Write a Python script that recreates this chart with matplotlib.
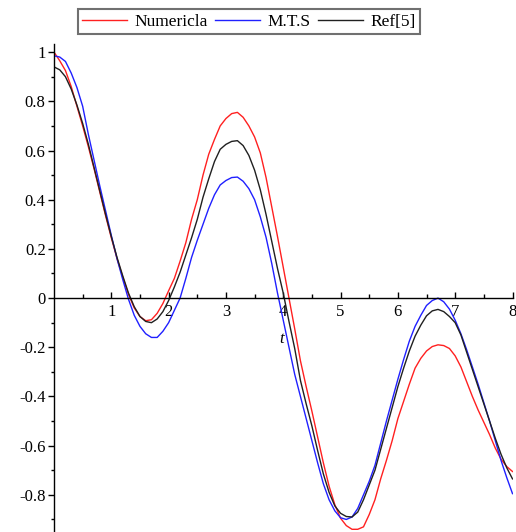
import numpy as np
import matplotlib
matplotlib.use('Agg')
import matplotlib.pyplot as plt
from matplotlib.ticker import FixedLocator, MultipleLocator

plt.rcParams['font.family'] = ['Liberation Serif', 'DejaVu Serif']
plt.rcParams['axes.unicode_minus'] = False

# time grid (step 0.1) and values
t = np.round(np.arange(0, 8.01, 0.1), 1)

numericla = [
    1.00, 0.965, 0.925, 0.86, 0.78, 0.70, 0.615, 0.525, 0.43, 0.335,
    0.245, 0.16, 0.085, 0.015, -0.04, -0.075, -0.092, -0.088, -0.062, -0.022,
    0.03, 0.08, 0.15, 0.225, 0.32, 0.40, 0.50, 0.585, 0.645, 0.70,
    0.73, 0.75, 0.755, 0.735, 0.70, 0.655, 0.59, 0.49, 0.37, 0.25,
    0.125, 0.0, -0.125, -0.255, -0.36, -0.46, -0.565, -0.67, -0.765, -0.84,
    -0.895, -0.925, -0.94, -0.94, -0.93, -0.88, -0.82, -0.735, -0.66, -0.58,
    -0.49, -0.42, -0.35, -0.285, -0.245, -0.215, -0.197, -0.19, -0.193, -0.205,
    -0.235, -0.28, -0.34, -0.40, -0.455, -0.505, -0.555, -0.61, -0.655, -0.685,
    -0.705,
]

mts = [
    0.985, 0.98, 0.962, 0.915, 0.856, 0.78, 0.665, 0.56, 0.455, 0.355,
    0.255, 0.16, 0.075, -0.005, -0.07, -0.115, -0.145, -0.16, -0.16, -0.135,
    -0.10, -0.05, 0.0, 0.08, 0.165, 0.235, 0.30, 0.365, 0.42, 0.46,
    0.478, 0.49, 0.492, 0.475, 0.445, 0.40, 0.33, 0.247, 0.14, 0.02,
    -0.09, -0.20, -0.31, -0.40, -0.49, -0.58, -0.67, -0.755, -0.82, -0.865,
    -0.893, -0.90, -0.89, -0.855, -0.80, -0.745, -0.68, -0.59, -0.50, -0.415,
    -0.33, -0.25, -0.175, -0.115, -0.07, -0.03, -0.01, 0.0, -0.015, -0.045,
    -0.09, -0.145, -0.21, -0.28, -0.35, -0.425, -0.50, -0.58, -0.66, -0.73,
    -0.795,
]

ref5 = [
    0.94, 0.928, 0.90, 0.85, 0.785, 0.71, 0.625, 0.53, 0.435, 0.34,
    0.25, 0.165, 0.09, 0.02, -0.035, -0.075, -0.095, -0.10, -0.085, -0.055,
    -0.01, 0.045, 0.105, 0.175, 0.245, 0.32, 0.41, 0.485, 0.555, 0.605,
    0.625, 0.637, 0.64, 0.62, 0.58, 0.52, 0.44, 0.34, 0.23, 0.12,
    0.02, -0.095, -0.205, -0.335, -0.43, -0.52, -0.62, -0.715, -0.79, -0.845,
    -0.875, -0.888, -0.89, -0.87, -0.82, -0.76, -0.70, -0.615, -0.53, -0.445,
    -0.36, -0.285, -0.215, -0.155, -0.11, -0.072, -0.052, -0.046, -0.055, -0.075,
    -0.10, -0.15, -0.22, -0.29, -0.36, -0.43, -0.50, -0.57, -0.635, -0.69,
    -0.735,
]

x_ticks = [1, 2, 3, 4, 5, 6, 7, 8]
y_ticks = [-0.8, -0.6, -0.4, -0.2, 0, 0.2, 0.4, 0.6, 0.8, 1]
y_labels = ['-0.8', '-0.6', '-0.4', '-0.2', '0', '0.2', '0.4', '0.6', '0.8', '1']

fig = plt.figure(figsize=(5.16, 5.32), dpi=100)
ax = fig.add_axes([54 / 516, 0, (512.5 - 54) / 516, (532 - 44) / 532])

l1, = ax.plot(t, numericla, color='#ff2020', lw=1.0, label='Numericla')
l2, = ax.plot(t, mts, color='#2020ff', lw=1.0, label='M.T.S')
l3, = ax.plot(t, ref5, color='#202020', lw=1.0, label='Ref[5]')

ax.set_xlim(0, 8)
ax.set_ylim(-0.951, 1.033)

ax.spines['top'].set_visible(False)
ax.spines['right'].set_visible(False)
ax.spines['bottom'].set_position(('data', 0))
for s in ('left', 'bottom'):
    ax.spines[s].set_linewidth(1.0)

ax.xaxis.set_major_locator(FixedLocator(x_ticks))
ax.xaxis.set_minor_locator(FixedLocator([0.5 + i for i in range(8)]))
ax.set_yticks(y_ticks)
ax.set_yticklabels(y_labels)
ax.yaxis.set_minor_locator(MultipleLocator(0.1))

ax.tick_params(axis='x', which='major', direction='in', length=4, width=1, pad=4.5, labelsize=12)
ax.tick_params(axis='x', which='minor', direction='in', length=3, width=1)
ax.tick_params(axis='y', which='major', direction='out', length=4, width=1, pad=2, labelsize=12)
ax.tick_params(axis='y', which='minor', direction='out', length=2.5, width=1)

ax.text(3.97, -0.165, 't', style='italic', fontsize=12, ha='center', va='center')

leg = fig.legend(handles=[l1, l2, l3], loc='center', ncol=3,
                 bbox_to_anchor=((76 + 422) / 2 / 516, 1 - 21.5 / 532),
                 fontsize=12.5, frameon=True, fancybox=False, framealpha=1,
                 handlelength=2.6, handletextpad=0.42, columnspacing=0.42,
                 borderpad=0.25, borderaxespad=0)
leg.get_frame().set_edgecolor('#707070')
leg.get_frame().set_linewidth(1.5)

fig.savefig('out.png', dpi=100)
